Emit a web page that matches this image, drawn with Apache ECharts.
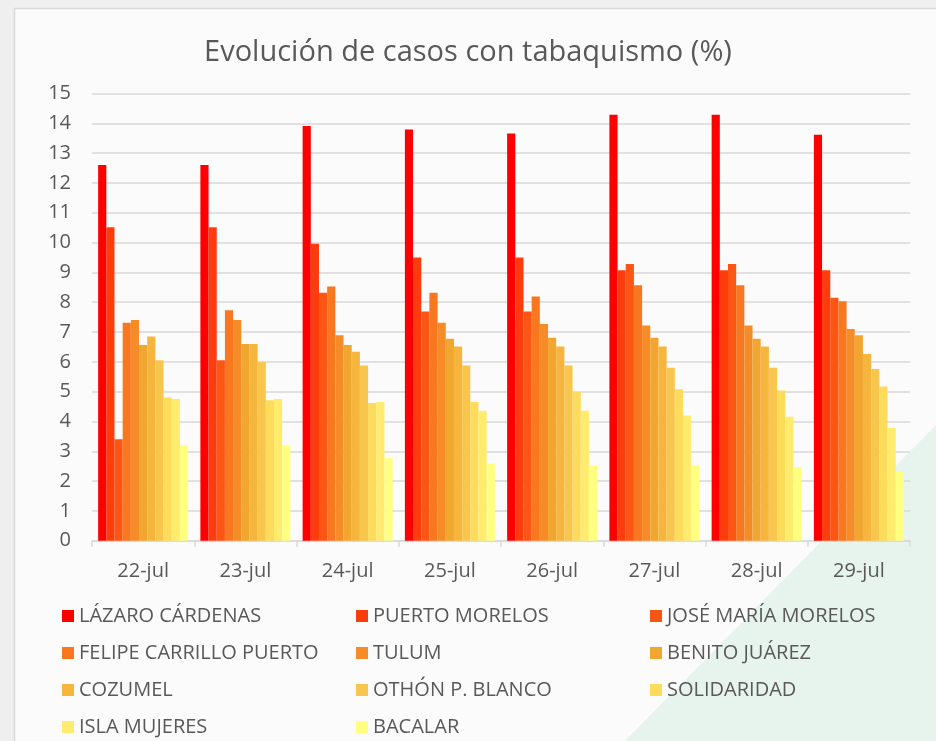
<!DOCTYPE html>
<html>
<head>
<meta charset="utf-8">
<script src="https://cdn.jsdelivr.net/npm/echarts@6/dist/echarts.min.js"></script>
<style>
  html, body { margin: 0; padding: 0; background: #efefef; }
  #chart { width: 936px; height: 741px; }
</style>
</head>
<body>
<div id="chart"></div>
<script>
// Dates on the category axis
var dates = ['22-jul', '23-jul', '24-jul', '25-jul', '26-jul', '27-jul', '28-jul', '29-jul'];

// Municipality names, in series order
var municipios = [
  'LÁZARO CÁRDENAS', 'PUERTO MORELOS', 'JOSÉ MARÍA MORELOS',
  'FELIPE CARRILLO PUERTO', 'TULUM', 'BENITO JUÁREZ',
  'COZUMEL', 'OTHÓN P. BLANCO', 'SOLIDARIDAD',
  'ISLA MUJERES', 'BACALAR'
];

// Percentage of cases with smoking, per municipality and date
var lazaroCardenas      = [12.60, 12.60, 13.91, 13.79, 13.66, 14.29, 14.29, 13.62];
var puertoMorelos       = [10.51, 10.51,  9.96,  9.50,  9.50,  9.07,  9.07,  9.07];
var joseMariaMorelos    = [ 3.40,  6.05,  8.32,  7.69,  7.69,  9.28,  9.28,  8.15];
var felipeCarrillo      = [ 7.31,  7.73,  8.53,  8.32,  8.19,  8.57,  8.57,  8.03];
var tulum               = [ 7.40,  7.40,  6.89,  7.31,  7.27,  7.22,  7.22,  7.10];
var benitoJuarez        = [ 6.56,  6.60,  6.56,  6.77,  6.81,  6.81,  6.77,  6.89];
var cozumel             = [ 6.85,  6.60,  6.34,  6.51,  6.51,  6.51,  6.51,  6.26];
var othonPBlanco        = [ 6.05,  5.99,  5.88,  5.88,  5.88,  5.80,  5.80,  5.76];
var solidaridad         = [ 4.80,  4.71,  4.62,  4.65,  4.99,  5.08,  5.04,  5.17];
var islaMujeres         = [ 4.75,  4.75,  4.65,  4.36,  4.36,  4.20,  4.16,  3.78];
var bacalar             = [ 3.19,  3.19,  2.77,  2.59,  2.52,  2.52,  2.47,  2.31];

var valores = [
  lazaroCardenas, puertoMorelos, joseMariaMorelos, felipeCarrillo, tulum,
  benitoJuarez, cozumel, othonPBlanco, solidaridad, islaMujeres, bacalar
];

// Red-to-yellow ramp
var colores = [
  '#ff0000', '#ff3c0e', '#fd5513', '#f9771f', '#f68c27', '#f1a630',
  '#f6b63e', '#f9c64d', '#fddb5b', '#ffec6f', '#ffff80'
];

var textColor = '#595959';
var fontFamily = '"Open Sans", "Noto Sans", sans-serif';

var series = municipios.map(function (name, i) {
  return {
    name: name,
    type: 'bar',
    data: valores[i],
    barGap: '0%',
    barCategoryGap: '12%',
    itemStyle: { color: colores[i] }
  };
});

// Legend laid out as three columns
function legendColumn(names, left) {
  return {
    data: names,
    orient: 'vertical',
    left: left,
    top: 601,
    height: 140,
    itemWidth: 12,
    itemHeight: 12,
    itemGap: 17,
    icon: 'rect',
    selectedMode: false,
    textStyle: { color: textColor, fontSize: 20, fontFamily: fontFamily }
  };
}

var chart = echarts.init(document.getElementById('chart'));
chart.setOption({
  backgroundColor: '#efefef',
  graphic: [
    {
      type: 'rect',
      silent: true,
      z: -10,
      shape: { x: 14.5, y: 8.5, width: 940, height: 760 },
      style: { fill: '#fbfbfb', stroke: '#d9d9d9', lineWidth: 1.5 }
    },
    {
      type: 'polygon',
      silent: true,
      z: -9,
      shape: { points: [[936, 425], [936, 741], [625, 741]] },
      style: { fill: 'rgba(206, 232, 220, 0.45)' }
    }
  ],
  title: {
    text: 'Evolución de casos con tabaquismo (%)',
    left: 'center',
    top: 33,
    textStyle: { color: textColor, fontSize: 29, fontWeight: 'normal', fontFamily: fontFamily }
  },
  legend: [
    legendColumn([municipios[0], municipios[3], municipios[6], municipios[9]], 57),
    legendColumn([municipios[1], municipios[4], municipios[7], municipios[10]], 351),
    legendColumn([municipios[2], municipios[5], municipios[8]], 645)
  ],
  grid: { left: 92, right: 26, top: 93.5, bottom: 200.3, containLabel: false },
  xAxis: {
    type: 'category',
    data: dates,
    axisLine: { lineStyle: { color: '#d9d9d9', width: 1.5 } },
    axisTick: { show: true, length: 6, lineStyle: { color: '#d9d9d9', width: 1.5 } },
    axisLabel: { color: textColor, fontSize: 20, fontFamily: fontFamily, margin: 21 }
  },
  yAxis: {
    type: 'value',
    min: 0,
    max: 15,
    interval: 1,
    axisLine: { show: false },
    axisTick: { show: false },
    axisLabel: { color: textColor, fontSize: 20, fontFamily: fontFamily, margin: 21 },
    splitLine: { lineStyle: { color: '#d9d9d9', width: 1.5 } }
  },
  series: series
});
</script>
</body>
</html>
